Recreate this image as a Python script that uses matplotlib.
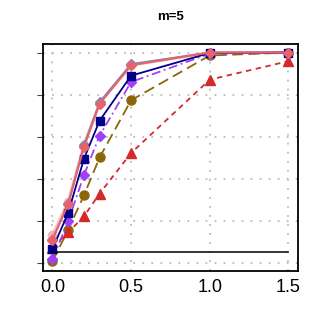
import matplotlib
matplotlib.use("Agg")
from matplotlib import pyplot as plt

plt.rcParams["font.family"] = ["Liberation Sans", "DejaVu Sans"]

# ---------------------------------------------------------------------------
# Data (power curves, m=5)
# ---------------------------------------------------------------------------
x_vals = [0.0, 0.1, 0.2, 0.3, 0.5, 1.0, 1.5]

pink_light = [0.13, 0.29, 0.56, 0.76, 0.94, 1.0, 1.0]
steel_diam = [0.11, 0.28, 0.56, 0.765, 0.946, 1.0, 1.0]
salmon_diam = [0.11, 0.28, 0.55, 0.757, 0.94, 1.0, 1.0]
navy_sq = [0.065, 0.237, 0.494, 0.676, 0.89, 0.998, 1.0]
purple_diam = [0.016, 0.197, 0.416, 0.605, 0.86, 0.995, 1.0]
olive_circ = [0.006, 0.157, 0.32, 0.501, 0.773, 0.986, 1.0]
red_tri = [0.072, 0.144, 0.22, 0.329, 0.522, 0.871, 0.959]

alpha_level = 0.05

x_ticks = [0.0, 0.5, 1.0, 1.5]
x_ticklabels = ["0.0", "0.5", "1.0", "1.5"]
y_ticks = [0.0, 0.2, 0.4, 0.6, 0.8, 1.0]

# ---------------------------------------------------------------------------
# Figure
# ---------------------------------------------------------------------------
fig = plt.figure(figsize=(3.21, 3.27), dpi=100)
ax = fig.add_axes([0.134, 0.171, 0.794, 0.694])

ax.plot(x_vals, pink_light, color="#F4A3A6", lw=2.2, marker="o", ms=6,
        alpha=0.7, zorder=2)
ax.plot(x_vals, steel_diam, color="#6C8EBF", lw=1.2, marker="D", ms=5, zorder=3)
ax.plot(x_vals, olive_circ, color="#8B6508", lw=1.3, ls=(0, (6, 3)),
        marker="o", ms=6.5, zorder=4)
ax.plot(x_vals, red_tri, color="#D42A2A", lw=1.3, ls=(0, (3, 2.5)),
        marker="^", ms=7, zorder=4)
ax.plot(x_vals, purple_diam, color="#A040F5", lw=1.3, ls=(0, (5, 2, 1, 2)),
        marker="D", ms=5, zorder=5)
ax.plot(x_vals, navy_sq, color="#00008B", lw=1.3, marker="s", ms=5.5, zorder=6)
ax.plot(x_vals, salmon_diam, color="#E5636A", lw=1.5, marker="D", ms=5, zorder=7)

ax.plot([x_vals[0], x_vals[-1]], [alpha_level, alpha_level], color="black",
        lw=1.1, zorder=8)

ax.set_xlim(-0.06, 1.56)
ax.set_ylim(-0.04, 1.04)
ax.set_xticks(x_ticks)
ax.set_xticklabels(x_ticklabels, fontsize=13)
ax.set_yticks(y_ticks)
ax.set_yticklabels([])
ax.tick_params(axis="x", length=0, pad=6)
ax.tick_params(axis="y", length=4, width=0.8, color="#444444")
ax.grid(True, color="#BBBBBB", ls=(0, (1, 4)), lw=1.3)
ax.set_axisbelow(True)

for sp in ax.spines.values():
    sp.set_linewidth(1.3)

fig.text(0.53, 0.948, "m=5", ha="center", va="center", fontsize=9.5,
         fontweight="bold")

fig.savefig("out.png", dpi=100)
